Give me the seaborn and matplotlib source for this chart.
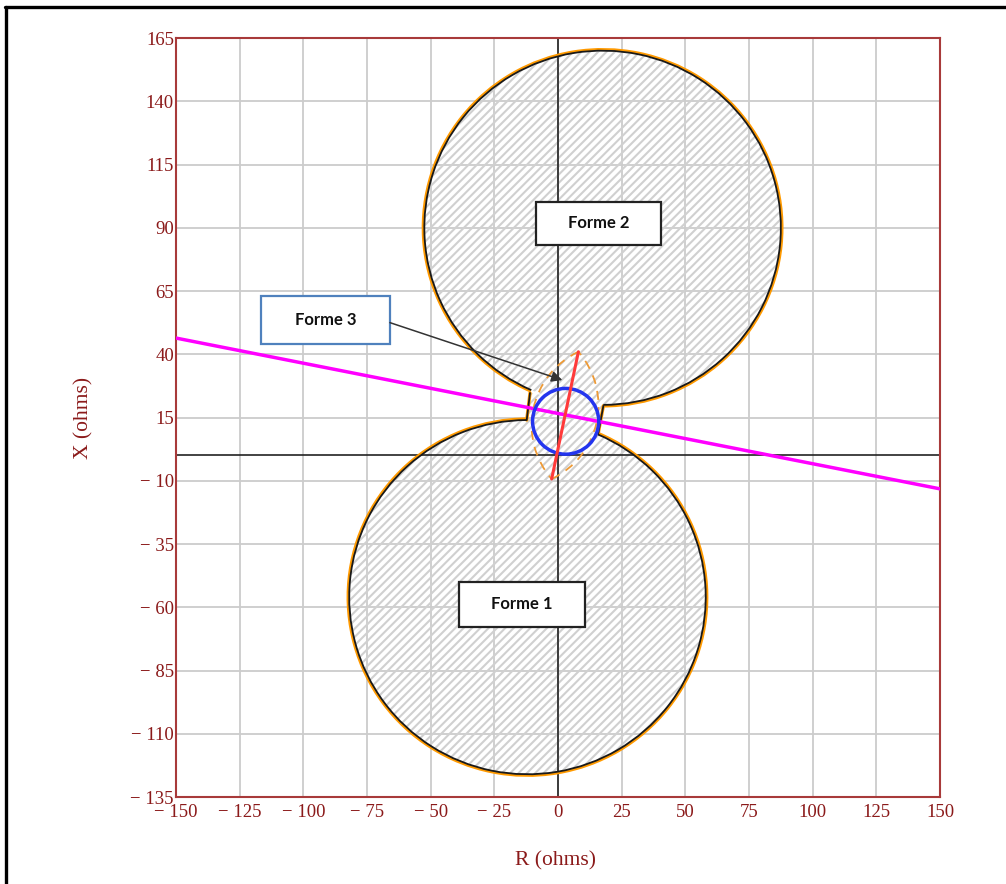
import numpy as np
import pandas as pd
import seaborn as sns
from matplotlib import pyplot as plt
from matplotlib.patches import Circle, Arc, Polygon, Rectangle
from matplotlib.lines import Line2D

# axis ticks (ohms)
r_ticks = [-150, -125, -100, -75, -50, -25, 0, 25, 50, 75, 100, 125, 150]
x_ticks = [-135, -110, -85, -60, -35, -10, 15, 40, 65, 90, 115, 140, 165]

# protection zones: centre R, centre X, radius
upper_zone = (17.5, 90.0, 70.0)
lower_zone = (-12.0, -56.0, 70.0)
# bridge joining the two zones: upper-left, upper-right, lower-right, lower-left
bridge_r = [-11.0, 17.8, 15.8, -12.3]
bridge_x = [24.7, 19.6, 8.8, 14.0]

# forme 3 elements
blue_circle = (3.0, 13.5, 13.0)
red_r = [-2.5, 8.0]
red_x = [-9.3, 41.0]
lens_bulge = 12.7

# load line
load_r = [-150, 150]
load_x = [46.4, -13.2]

# label boxes
box_labels = ['Forme 1', 'Forme 2', 'Forme 3']
box_r = [(-38.9, 10.6), (-8.6, 40.4), (-116.6, -66.0)]
box_x = [(-67.8, -50.0), (83.2, 100.2), (44.1, 63.0)]
box_edge = ['#222222', '#222222', '#4f81bd']
arrow_from = (-66.0, 52.5)
arrow_to = (1.7, 29.8)

sns.set_theme(style='white')
plt.rcParams['font.family'] = ['Liberation Serif', 'DejaVu Sans']
plt.rcParams['hatch.linewidth'] = 1.5

red_txt = '#8b1a1a'
fig = plt.figure(figsize=(10.06, 8.84), dpi=100)
ax = fig.add_axes([0.175, 0.0984, 0.7594, 0.8586])

def fmt(v):
    return '\u2212 %d' % -v if v < 0 else '%d' % v

def ang(zone, r, x):
    return np.degrees(np.arctan2(x - zone[1], r - zone[0]))

# hatched fill
hatch_kw = dict(facecolor='none', edgecolor='#d0d0d0', lw=0, hatch='////', zorder=1)
for z in (upper_zone, lower_zone):
    ax.add_patch(Circle((z[0], z[1]), z[2], **hatch_kw))
ax.add_patch(Polygon(list(zip(bridge_r, bridge_x)), closed=True, **hatch_kw))

# outline (orange underneath, black on top)
arcs = [(upper_zone, ang(upper_zone, bridge_r[1], bridge_x[1]), ang(upper_zone, bridge_r[0], bridge_x[0])),
        (lower_zone, ang(lower_zone, bridge_r[3], bridge_x[3]), ang(lower_zone, bridge_r[2], bridge_x[2]))]
for z, t1, t2 in arcs:
    ax.add_patch(Arc((z[0], z[1]), 2 * z[2] + 1.0, 2 * z[2] + 1.0, theta1=t1, theta2=t2,
                     color='#ff9a00', lw=2.0, zorder=3))
    ax.add_patch(Arc((z[0], z[1]), 2 * z[2], 2 * z[2], theta1=t1, theta2=t2,
                     color='#1a1a1a', lw=1.3, zorder=4))
for i, j in [(0, 3), (2, 1)]:
    ax.plot([bridge_r[i], bridge_r[j]], [bridge_x[i], bridge_x[j]], color='#ff9a00', lw=2.4, zorder=3)
    ax.plot([bridge_r[i], bridge_r[j]], [bridge_x[i], bridge_x[j]], color='#1a1a1a', lw=1.3, zorder=4)

# axes through origin
ax.axvline(0, color='#222222', lw=1.2, zorder=2)
ax.axhline(0, color='#222222', lw=1.2, zorder=2)

# load line
sns.lineplot(x=load_r, y=load_x, color='#ff00ff', lw=2.5, ax=ax, zorder=5)

# forme 3: lens, circle, line
p0 = np.array([red_r[0], red_x[0]])
p1 = np.array([red_r[1], red_x[1]])
mid = (p0 + p1) / 2
L = np.linalg.norm(p1 - p0)
u = (p1 - p0) / L
n = np.array([-u[1], u[0]])
R = (L ** 2 / 4 + lens_bulge ** 2) / (2 * lens_bulge)
half = np.degrees(np.arcsin(L / 2 / R))
for s in (1, -1):
    c = mid - s * (R - lens_bulge) * n
    a = np.degrees(np.arctan2(s * n[1], s * n[0]))
    ax.add_patch(Arc(tuple(c), 2 * R, 2 * R, theta1=a - half, theta2=a + half,
                     color='#ee9a35', lw=1.3, ls=(0, (5, 4)), zorder=5))
ax.add_patch(Circle(blue_circle[:2], blue_circle[2], fill=False, edgecolor='#2435ee', lw=2.5, zorder=6))
sns.lineplot(x=red_r, y=red_x, color='#ff3a3a', lw=2.2, ax=ax, zorder=7)

# label boxes
for lab, br, bx, ec in zip(box_labels, box_r, box_x, box_edge):
    ax.add_patch(Rectangle((br[0], bx[0]), br[1] - br[0], bx[1] - bx[0],
                           facecolor='white', edgecolor=ec, lw=1.6, zorder=8))
    ax.text((br[0] + br[1]) / 2, (bx[0] + bx[1]) / 2, lab, ha='center', va='center',
            fontsize=12, fontweight='bold', family='Lato', color='#111111', zorder=9)
ax.annotate('', xy=arrow_to, xytext=arrow_from,
            arrowprops=dict(arrowstyle='-|>', color='#333333', lw=1.1, mutation_scale=16,
                            shrinkA=0, shrinkB=0), zorder=9)

# axes styling
ax.set_xlim(-150, 150)
ax.set_ylim(-135, 165)
ax.set_xticks(r_ticks, labels=[fmt(v) for v in r_ticks])
ax.set_yticks(x_ticks, labels=[fmt(v) for v in x_ticks])
ax.grid(True, color='#cccccc', lw=1.3)
ax.set_axisbelow(True)
ax.tick_params(length=0, labelsize=13.5, labelcolor=red_txt)
ax.tick_params(axis='x', pad=5)
ax.tick_params(axis='y', pad=1.5)
for sp in ax.spines.values():
    sp.set_color('#a83a3a')
    sp.set_linewidth(1.5)
    sp.set_visible(True)
ax.set_xlabel('R (ohms)', fontsize=15.5, color=red_txt)
ax.set_ylabel('X (ohms)', fontsize=15.5, color=red_txt)
ax.xaxis.set_label_coords(0.497, -0.072)
ax.yaxis.set_label_coords(-0.108, 0.5)

# outer frame
fig.add_artist(Line2D([5 / 1006, 1], [1 - 6.5 / 884, 1 - 6.5 / 884], color='black', lw=2.4))
fig.add_artist(Line2D([6 / 1006, 6 / 1006], [0, 1 - 6.5 / 884], color='black', lw=2.4))

fig.savefig('out.png', dpi=100)
